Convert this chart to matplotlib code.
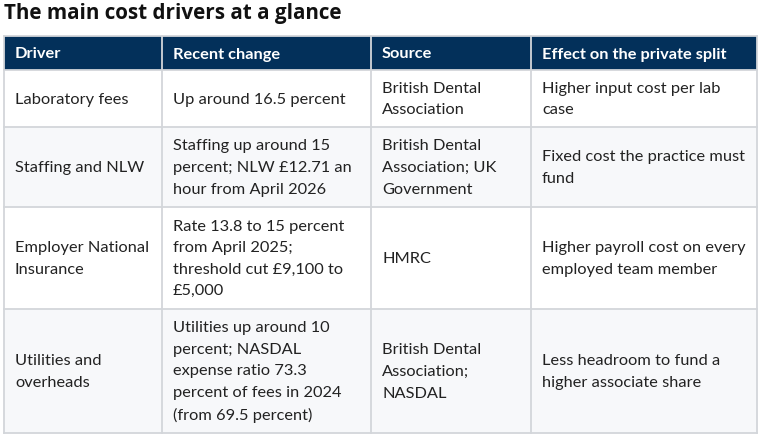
import matplotlib.pyplot as plt
from matplotlib.patches import Rectangle

# table contents
title = "The main cost drivers at a glance"
headers = ["Driver", "Recent change", "Source", "Effect on the private split"]
drivers = ["Laboratory fees", "Staffing and NLW", "Employer National\nInsurance",
           "Utilities and\noverheads"]
changes = ["Up around 16.5 percent",
           "Staffing up around 15\npercent; NLW £12.71 an\nhour from April 2026",
           "Rate 13.8 to 15 percent\nfrom April 2025;\nthreshold cut £9,100 to\n£5,000",
           "Utilities up around 10\npercent; NASDAL\nexpense ratio 73.3\npercent of fees in 2024\n(from 69.5 percent)"]
sources = ["British Dental\nAssociation", "British Dental\nAssociation; UK\nGovernment",
           "HMRC", "British Dental\nAssociation;\nNASDAL"]
effects = ["Higher input cost per lab\ncase", "Fixed cost the practice must\nfund",
           "Higher payroll cost on every\nemployed team member",
           "Less headroom to fund a\nhigher associate share"]

# layout in pixels
col_edges = [4, 162, 371, 531, 757]
row_edges = [36, 70, 127, 207, 309, 433]
navy = "#03305a"
grid = "#d3d6da"
stripe = "#f7f8fa"
txt = "#222222"
pad = 11

fig = plt.figure(figsize=(7.6, 4.36), dpi=100)
ax = fig.add_axes([0, 0, 1, 1])
ax.set_xlim(0, 760)
ax.set_ylim(436, 0)
ax.axis("off")

px = 72 / 100  # pixel -> points

ax.text(4, 14, title, fontsize=20.7 * px, fontweight="bold", family="Open Sans",
        color="#111111", va="center", ha="left")

rows = list(zip(drivers, changes, sources, effects))

# header
ax.add_patch(Rectangle((col_edges[0], row_edges[0]), col_edges[-1] - col_edges[0],
                       row_edges[1] - row_edges[0], facecolor=navy, edgecolor="none"))
for j, h in enumerate(headers):
    ax.text(col_edges[j] + pad, (row_edges[0] + row_edges[1]) / 2 + 1.5, h,
            fontsize=16.4 * px, fontweight="bold", family="Lato", color="white",
            va="center", ha="left")

# body
for i, row in enumerate(rows):
    y0, y1 = row_edges[i + 1], row_edges[i + 2]
    fc = stripe if i % 2 == 1 else "white"
    ax.add_patch(Rectangle((col_edges[0], y0), col_edges[-1] - col_edges[0], y1 - y0,
                           facecolor=fc, edgecolor="none"))
    for j, cell in enumerate(row):
        ax.text(col_edges[j] + pad, (y0 + y1) / 2 + 1, cell, fontsize=16.4 * px,
                family="Lato", color=txt, va="center", ha="left", linespacing=1.69)

# grid lines
for x in col_edges:
    ax.plot([x, x], [row_edges[0], row_edges[-1]], color=grid, lw=1.3)
for y in row_edges:
    ax.plot([col_edges[0], col_edges[-1]], [y, y], color=grid, lw=1.3)

fig.savefig("out.png", dpi=100)
